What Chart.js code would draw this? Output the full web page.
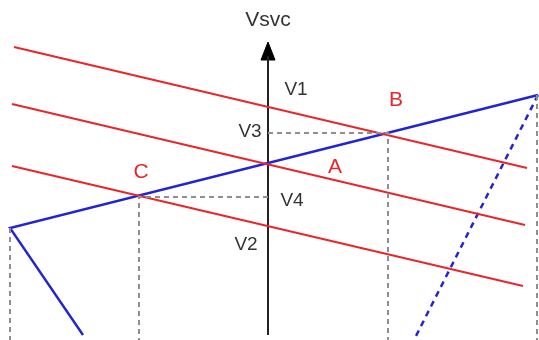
<!DOCTYPE html>
<html>
<head>
<meta charset="utf-8">
<script src="https://cdn.jsdelivr.net/npm/chart.js@4/dist/chart.umd.min.js"></script>
<style>
  html, body { margin: 0; padding: 0; background: #fff; }
  #wrap { width: 539px; height: 340px; }
</style>
</head>
<body>
<div id="wrap"><canvas id="chart" width="539" height="340"></canvas></div>
<script>
// schematic values, x measured from the Vsvc axis, y up from the bottom
const loadLine1 = [{ x: -254, y: 293 }, { x: 259, y: 172 }];
const loadLine2 = [{ x: -256, y: 236 }, { x: 257, y: 115 }];
const loadLine3 = [{ x: -256, y: 174 }, { x: 255, y: 54 }];
const svcLine = [{ x: -185, y: 5 }, { x: -258, y: 112 }, { x: 270, y: 245 }];
const svcDashed = [{ x: 270, y: 245 }, { x: 148, y: 4 }];
const guideB = [{ x: 0, y: 207 }, { x: 120, y: 207 }, { x: 120, y: 0 }];
const guideC = [{ x: 0, y: 143 }, { x: -129, y: 143 }, { x: -129, y: 0 }];
const guideLeft = [{ x: -258, y: 112 }, { x: -258, y: 0 }];
const guideRight = [{ x: 269, y: 245 }, { x: 269, y: 0 }];
const vAxis = [{ x: 0, y: 5 }, { x: 0, y: 284 }];
const arrowHead = [{ x: -7, y: 280 }, { x: 0, y: 298 }, { x: 7, y: 280 }, { x: -7, y: 280 }];

const labelTexts = ['Vsvc', 'V1', 'V3', 'A', 'B', 'C', 'V4', 'V2'];
const labelX = [0, 28, -18, 67, 128, -127, 24, -22];
const labelY = [320, 250, 208, 173, 240, 168, 139, 95];
const labelRed = [false, false, false, true, true, true, false, false];

const RED = '#e8262b';
const BLUE = '#2323d6';
const GREY = '#8f8f8f';

function line(data, color, width, dash) {
    return {
        data: data,
        showLine: true,
        borderColor: color,
        borderWidth: width,
        borderDash: dash || [],
        pointRadius: 0,
        fill: false,
        tension: 0
    };
}

const labelPlugin = {
    id: 'labels',
    afterDatasetsDraw(chart) {
        const ctx = chart.ctx;
        const xs = chart.scales.x, ys = chart.scales.y;
        ctx.save();
        ctx.textAlign = 'center';
        ctx.textBaseline = 'middle';
        labelTexts.forEach((t, i) => {
            ctx.fillStyle = labelRed[i] ? RED : '#333';
            ctx.font = (i === 0 ? '21px' : labelRed[i] ? '21px' : '19px') + ' Arial, "Liberation Sans", sans-serif';
            ctx.fillText(t, xs.getPixelForValue(labelX[i]), ys.getPixelForValue(labelY[i]));
        });
        ctx.restore();
    }
};

new Chart(document.getElementById('chart'), {
    type: 'scatter',
    data: {
        datasets: [
            line(guideB, GREY, 2, [5, 4]),
            line(guideC, GREY, 2, [5, 4]),
            line(guideLeft, GREY, 2, [5, 4]),
            line(guideRight, GREY, 2, [5, 4]),
            line(loadLine1, RED, 2),
            line(loadLine2, RED, 2),
            line(loadLine3, RED, 2),
            line(svcLine, BLUE, 2.4),
            line(svcDashed, BLUE, 2.5, [6, 5]),
            line(vAxis, '#222', 2),
            Object.assign(line(arrowHead, '#000', 1), { fill: 'shape', backgroundColor: '#000' })
        ]
    },
    options: {
        responsive: false,
        animation: false,
        layout: { padding: 0 },
        plugins: { legend: { display: false }, tooltip: { enabled: false } },
        scales: {
            x: { type: 'linear', min: -268, max: 271, display: false },
            y: { type: 'linear', min: 0, max: 340, display: false }
        }
    },
    plugins: [labelPlugin]
});
</script>
</body>
</html>
